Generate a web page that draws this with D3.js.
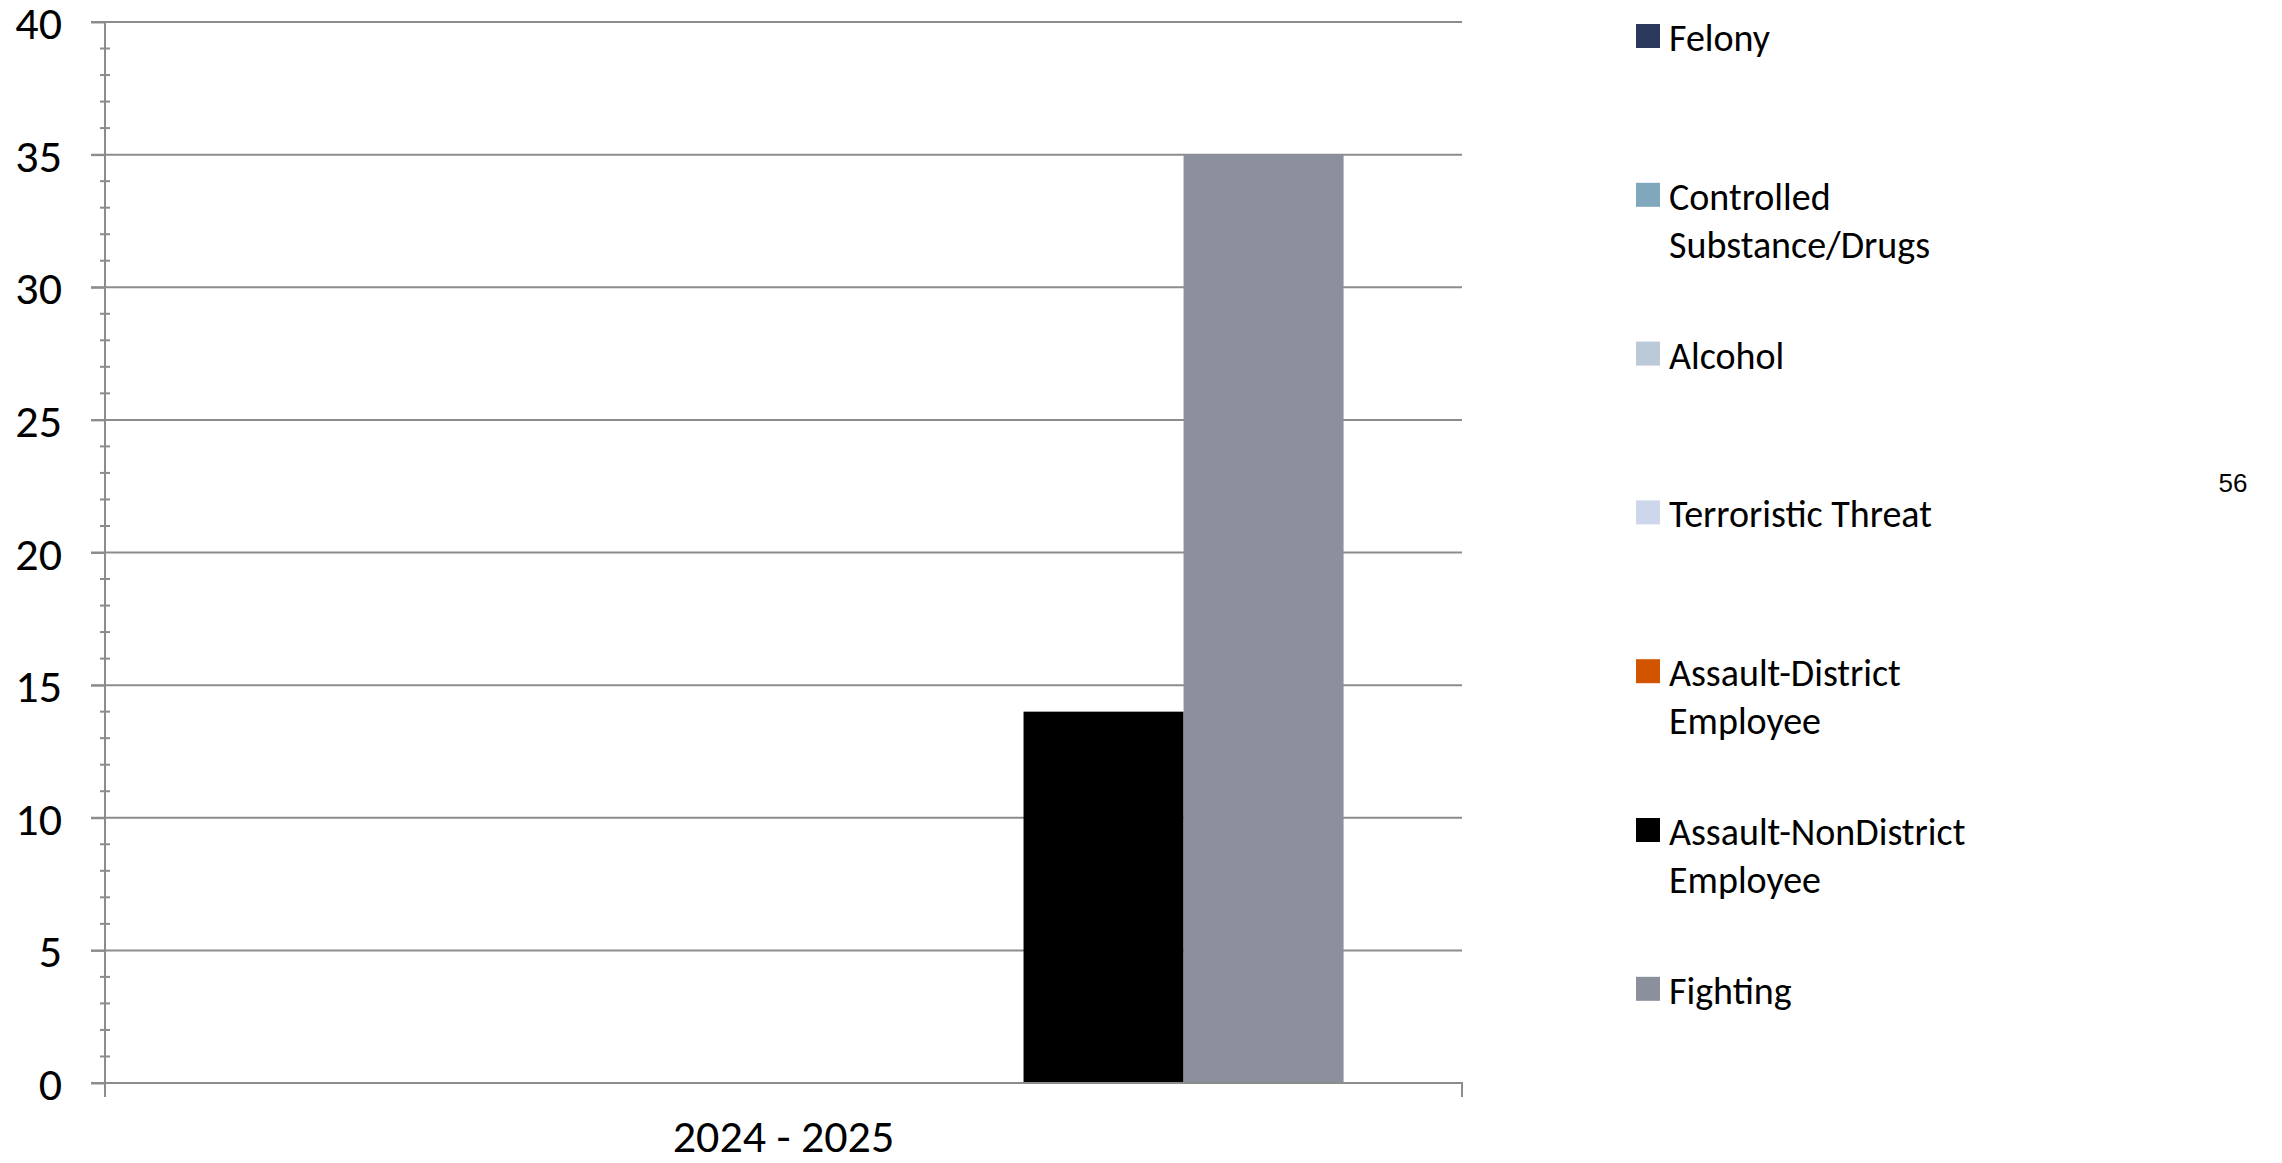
<!DOCTYPE html>
<html>
<head>
<meta charset="utf-8">
<script src="https://cdn.jsdelivr.net/npm/d3@7"></script>
<style>
    body { margin: 0; background: #fff; }
    text { font-family: Calibri, Carlito, Lato, sans-serif; fill: #000; }
</style>
</head>
<body>
<svg id="chart" width="2282" height="1163"></svg>
<script>
// Data
const categories = ["2024 - 2025"];
const seriesNames = ["Felony", "Controlled Substance/Drugs", "Alcohol", "Terroristic Threat",
    "Assault-District Employee", "Assault-NonDistrict Employee", "Fighting"];
const seriesLabels = [["Felony"], ["Controlled", "Substance/Drugs"], ["Alcohol"], ["Terroristic Threat"],
    ["Assault-District", "Employee"], ["Assault-NonDistrict", "Employee"], ["Fighting"]];
const seriesValues = [0, 0, 0, 0, 0, 14, 35];
const seriesColors = ["#2b3a5c", "#7fa8bc", "#bcc9d8", "#cdd6ea", "#d35400", "#000000", "#8c909d"];
const yTicks = [0, 5, 10, 15, 20, 25, 30, 35, 40];
const pageNumber = "56";

const DIMS = {left: 105, right: 1462, top: 22, bottom: 1083};
const AXIS_COLOR = "#8c8c8c";
const TICK_FONT = 46;
const LEGEND_FONT = 38;

const svg = d3.select("#chart");

const xScale = d3.scaleBand()
    .domain(categories)
    .range([DIMS.left, DIMS.right]);

// Excel-style gap: 148% of a bar, split on both sides
const xSeries = d3.scaleBand()
    .domain(seriesNames)
    .range([0, xScale.bandwidth()])
    .paddingInner(0)
    .paddingOuter(0.74);

const yScale = d3.scaleLinear()
    .domain([0, 40])
    .range([DIMS.bottom, DIMS.top]);

// Gridlines (extend left past the axis like major ticks)
svg.append("g")
    .attr("class", "grid")
    .selectAll("line")
    .data(yTicks)
    .enter()
    .append("line")
    .attr("x1", DIMS.left - 14)
    .attr("x2", DIMS.right)
    .attr("y1", d => yScale(d))
    .attr("y2", d => yScale(d))
    .attr("stroke", AXIS_COLOR)
    .attr("stroke-width", 2);

// Bars
const rows = seriesNames.map((name, i) => ({name: name, value: seriesValues[i], color: seriesColors[i]}));
svg.append("g")
    .selectAll("rect")
    .data(rows.filter(d => d.value > 0))
    .enter()
    .append("rect")
    .attr("x", d => xScale(categories[0]) + xSeries(d.name))
    .attr("y", d => yScale(d.value))
    .attr("width", xSeries.bandwidth())
    .attr("height", d => yScale(0) - yScale(d.value))
    .attr("fill", d => d.color);

// Y axis
const yAxis = svg.append("g")
    .attr("transform", "translate(" + DIMS.left + ",0)")
    .call(d3.axisLeft(yScale).tickValues(yTicks).tickSize(14).tickSizeOuter(0).tickPadding(29));
yAxis.select(".domain").attr("stroke", AXIS_COLOR).attr("stroke-width", 2)
    .attr("d", "M0," + DIMS.top + "V" + (DIMS.bottom + 14));
yAxis.selectAll(".tick line").attr("stroke", AXIS_COLOR).attr("stroke-width", 2);
yAxis.selectAll(".tick text")
    .attr("font-size", TICK_FONT)
    .attr("font-family", "Calibri, Carlito, Lato, sans-serif")
    .attr("fill", "#000")
    .attr("dy", "0.36em");

// minor ticks crossing the axis
const minorTicks = d3.range(0, 41).filter(v => v % 5 !== 0);
yAxis.append("g")
    .selectAll("line")
    .data(minorTicks)
    .enter()
    .append("line")
    .attr("x1", -5)
    .attr("x2", 5)
    .attr("y1", d => yScale(d))
    .attr("y2", d => yScale(d))
    .attr("stroke", AXIS_COLOR)
    .attr("stroke-width", 2);

// X axis
const xAxis = svg.append("g")
    .attr("transform", "translate(0," + DIMS.bottom + ")")
    .call(d3.axisBottom(xScale).tickSize(0).tickPadding(0));
xAxis.select(".domain").attr("stroke", AXIS_COLOR).attr("stroke-width", 2)
    .attr("d", "M" + DIMS.left + ",0H" + DIMS.right + "V14");
xAxis.selectAll(".tick text")
    .attr("font-size", TICK_FONT)
    .attr("font-family", "Calibri, Carlito, Lato, sans-serif")
    .attr("fill", "#000")
    .attr("y", 69)
    .attr("dy", null);

// Legend
const legend = svg.append("g")
    .attr("transform", "translate(1636,24)");
const items = legend.selectAll("g")
    .data(rows)
    .enter()
    .append("g")
    .attr("transform", (d, i) => "translate(0," + (i * 158.8) + ")");
items.append("rect")
    .attr("width", 24)
    .attr("height", 24)
    .attr("fill", d => d.color);
items.append("text")
    .attr("x", 33)
    .attr("font-size", LEGEND_FONT)
    .selectAll("tspan")
    .data((d, i) => seriesLabels[i])
    .enter()
    .append("tspan")
    .attr("x", 33)
    .attr("y", (d, j) => 27 + j * 48)
    .text(d => d);

// Page number
svg.append("text")
    .attr("x", 2233)
    .attr("y", 492)
    .attr("text-anchor", "middle")
    .style("font-family", "'Liberation Sans', Arial, sans-serif")
    .attr("font-size", 26)
    .text(pageNumber);
</script>
</body>
</html>
